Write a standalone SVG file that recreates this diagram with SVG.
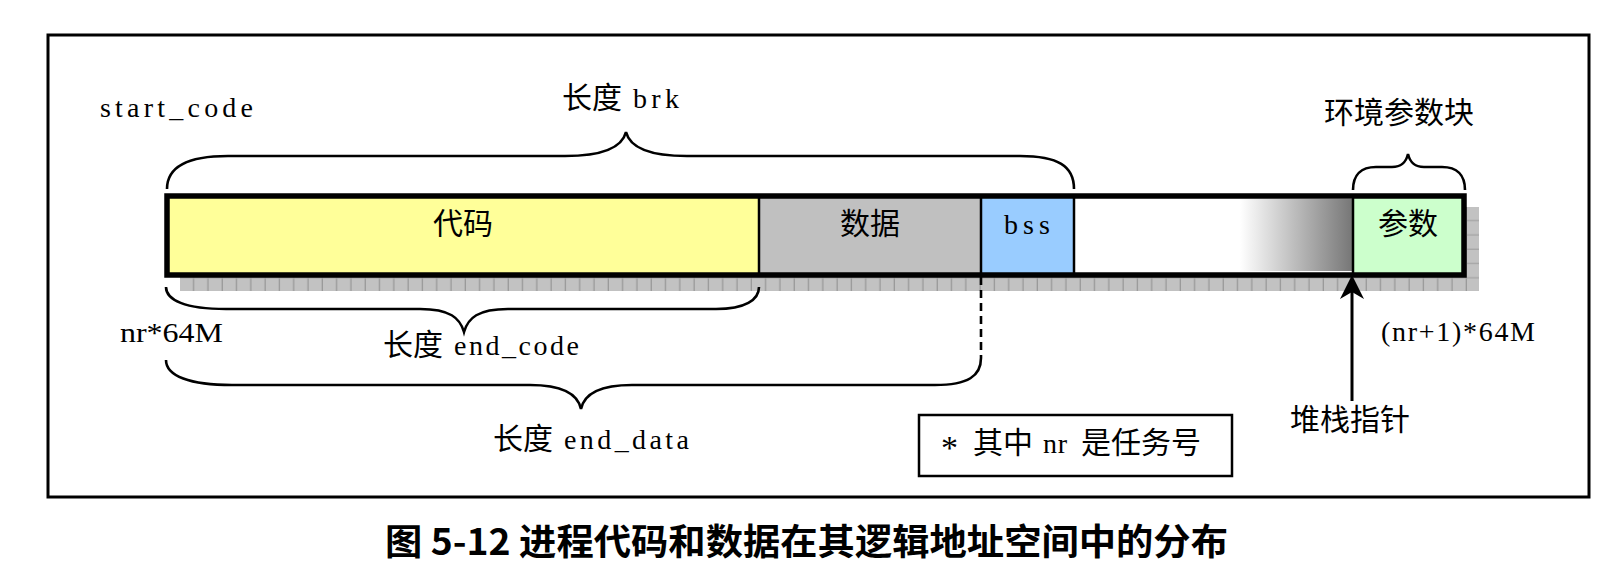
<svg xmlns="http://www.w3.org/2000/svg" width="1611" height="572" viewBox="0 0 1611 572">
<style>
.cjk{font-family:"Noto Sans CJK SC","Noto Sans CJK TC",sans-serif;font-size:30px;fill:#000}
.lat{font-family:"Liberation Serif","DejaVu Serif",serif;font-size:28px;fill:#000}
.brace{fill:none;stroke:#000;stroke-width:2.6}
.div{stroke:#000;stroke-width:2.5}
.cap{font-family:"Noto Sans CJK SC",sans-serif;font-weight:700;font-size:36px;fill:#000}
</style>
<defs>
<pattern id="shade" width="14.3" height="14.3" patternUnits="userSpaceOnUse" x="180" y="207">
<rect width="14.3" height="14.3" fill="#c2c2c2"/>
<rect x="13" y="0" width="1.3" height="14.3" fill="#999"/>
<rect x="0" y="13" width="14.3" height="1.3" fill="#a5a5a5"/>
</pattern>
<linearGradient id="fade" x1="0" y1="0" x2="1" y2="0">
<stop offset="0" stop-color="#ffffff"/>
<stop offset="1" stop-color="#777777"/>
</linearGradient>
<marker id="arrow" markerUnits="userSpaceOnUse" markerWidth="26" markerHeight="26" viewBox="0 0 26 26" refX="12" refY="13" orient="auto">
<path d="M24,13 L0,1 L7,13 L0,25 Z" fill="#000"/>
</marker>
</defs>
<rect id="frame" x="48" y="35" width="1541" height="462" fill="#fff" stroke="#000" stroke-width="3"/>

<g id="memory-bar">
<rect id="shadow" x="180" y="207" width="1299" height="84" fill="url(#shade)"/>
<rect x="167" y="196" width="592" height="79" fill="#ffff99"/>
<rect x="759" y="196" width="222" height="79" fill="#c0c0c0"/>
<rect x="981" y="196" width="93" height="79" fill="#99ccff"/>
<rect x="1074" y="196" width="279" height="79" fill="#ffffff"/>
<rect x="1240" y="199" width="112" height="72" fill="url(#fade)"/>
<rect x="1353" y="196" width="111" height="79" fill="#ccffcc"/>
<line class="div" x1="759" y1="196" x2="759" y2="275"/>
<line class="div" x1="981" y1="196" x2="981" y2="275"/>
<line class="div" x1="1074" y1="196" x2="1074" y2="275"/>
<line class="div" x1="1353" y1="196" x2="1353" y2="275"/>
<rect x="167" y="196" width="1297" height="79" fill="none" stroke="#000" stroke-width="5.5"/>
</g>

<g id="node-code"><text class="cjk" x="463" y="234" text-anchor="middle">代码</text></g>
<g id="node-data"><text class="cjk" x="870" y="234" text-anchor="middle">数据</text></g>
<g id="node-bss"><text class="lat" x="1004" y="234" textLength="46" lengthAdjust="spacing">bss</text></g>
<g id="node-params"><text class="cjk" x="1408" y="234" text-anchor="middle">参数</text></g>

<g id="connectors">
<path class="brace" d="M167,189 C167,166 190,156 228,156 L565,156 C603,156 622,148 626,132 C630,148 649,156 687,156 L1020,156 C1058,156 1074,166 1074,189"/>
<path class="brace" d="M1353,190 C1353,175 1361,167 1376,167 L1392,167 C1402,167 1406,162 1408,154 C1410,162 1414,167 1424,167 L1442,167 C1457,167 1465,175 1465,190"/>
<path class="brace" d="M166,287 C166,300 185,309 226,309 L420,309 C450,309 460,318 464,332 C468,318 478,309 508,309 L716,309 C745,309 759,300 759,287"/>
<path class="brace" d="M166,360 C166,376 190,385 232,385 L530,385 C565,385 578,395 581,409 C584,395 597,385 632,385 L935,385 C968,385 981,376 981,358"/>
<line x1="981" y1="277" x2="981" y2="358" stroke="#000" stroke-width="2.6" stroke-dasharray="8,5"/>
<line x1="1352" y1="401" x2="1352" y2="287" stroke="#000" stroke-width="3" marker-end="url(#arrow)"/>
</g>

<g id="labels">
<text class="lat" x="100" y="117" textLength="153" lengthAdjust="spacing">start_code</text>
<text class="cjk" x="562" y="108">长度</text>
<text class="lat" x="633" y="108" textLength="46" lengthAdjust="spacing">brk</text>
<text class="cjk" x="1399" y="123" text-anchor="middle">环境参数块</text>
<text class="lat" x="120" y="342" textLength="103" lengthAdjust="spacingAndGlyphs">nr*64M</text>
<text class="cjk" x="383" y="355">长度</text>
<text class="lat" x="454" y="355" textLength="125" lengthAdjust="spacing">end_code</text>
<text class="cjk" x="493" y="449">长度</text>
<text class="lat" x="564" y="449" textLength="125" lengthAdjust="spacing">end_data</text>
<text class="lat" x="1381" y="341" textLength="154" lengthAdjust="spacing">(nr+1)*64M</text>
<text class="cjk" x="1290" y="430">堆栈指针</text>
</g>

<g id="note">
<rect x="919" y="415" width="313" height="61" fill="none" stroke="#000" stroke-width="2.5"/>
<text class="lat" x="941" y="459" style="font-size:34px">*</text>
<text class="cjk" x="973" y="453">其中</text>
<text class="lat" x="1043" y="453" textLength="24" lengthAdjust="spacing">nr</text>
<text class="cjk" x="1081" y="453">是任务号</text>
</g>

<text class="cap" x="385" y="555" textLength="843" lengthAdjust="spacingAndGlyphs">图 5-12 进程代码和数据在其逻辑地址空间中的分布</text>
</svg>
